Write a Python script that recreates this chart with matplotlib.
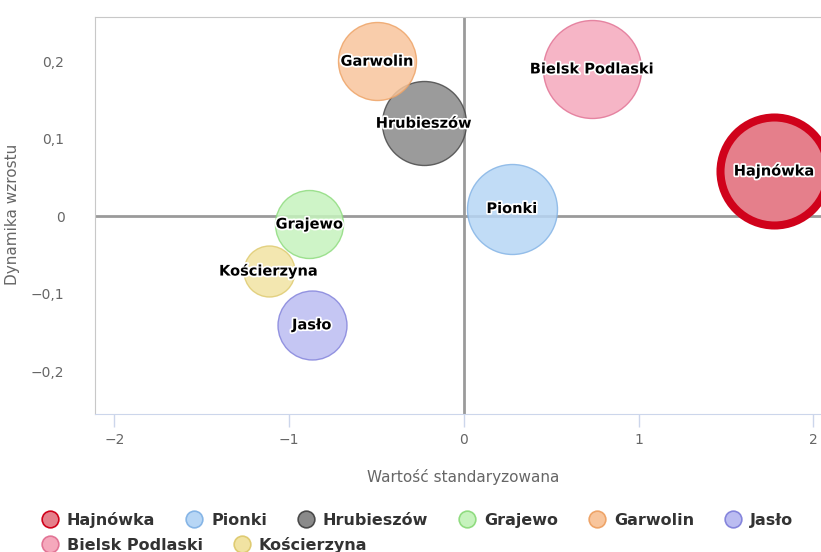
import numpy as np
import matplotlib
matplotlib.use("Agg")
import matplotlib.pyplot as plt
from matplotlib.ticker import FuncFormatter
from matplotlib.lines import Line2D
import matplotlib.patheffects as pe

plt.rcParams['font.family'] = ['DejaVu Sans']

# ========== dane ==========
miasta = ["Hajnówka", "Pionki", "Hrubieszów", "Grajewo", "Garwolin", "Jasło",
          "Bielsk Podlaski", "Kościerzyna"]
wartosc_std = [1.775, 0.275, -0.229, -0.883, -0.496, -0.870, 0.733, -1.117]
dynamika = [0.059, 0.010, 0.120, -0.010, 0.200, -0.140, 0.190, -0.070]
wielkosc = [2916, 2025, 1764, 1156, 1521, 1190, 2401, 650]   # wartość z (pole bąbla)

kolory = ["#e57f8b", "#b7d6f5", "#8a8a8a", "#c6f3bd", "#f8c59c", "#bbbcf1",
          "#f5a8bc", "#f1e3a2"]
obwodki = ["#d0021b", "#86b5e6", "#4a4a4a", "#90dc80", "#eea468", "#8585dc",
           "#e27596", "#dfcb72"]

# ========== wykres ==========
dpi = 100
fig = plt.figure(figsize=(8.21, 5.52), dpi=dpi)
ax = fig.add_axes([95 / 821, 1 - 414 / 552, 1 - 95 / 821 + 0.01, (414 - 17) / 552])
ax.set_xlim(-2.11, 2.09)
ax.set_ylim(-0.255, 0.257)

ax.axhline(0, color="#9a9a9a", lw=2, zorder=1)
ax.axvline(0, color="#9a9a9a", lw=2, zorder=1)

# promień bąbla w px ~ sqrt(z)
promienie = np.sqrt(np.array(wielkosc, dtype=float))
for i, m in enumerate(miasta):
    r = promienie[i]
    lw = 1.0
    alfa = 0.85
    if m == "Hajnówka":
        lw = 5.8
        alfa = 1.0
    s = (2 * r * 72 / dpi) ** 2
    ax.scatter(wartosc_std[i], dynamika[i], s=s, color=kolory[i],
               edgecolors=obwodki[i], linewidths=lw, alpha=alfa, zorder=3)
    ax.text(wartosc_std[i], dynamika[i], m, ha="center", va="center",
            fontsize=10.5, fontweight="bold", color="black", zorder=5,
            path_effects=[pe.withStroke(linewidth=2.5, foreground="white")])

for sp in ["top", "left"]:
    ax.spines[sp].set_color("#c8c8c8")
ax.spines["bottom"].set_color("#ccd6eb")
ax.spines["right"].set_visible(False)

ax.set_xticks([-2, -1, 0, 1, 2])
ax.set_yticks([-0.2, -0.1, 0, 0.1, 0.2])

def fmt(v, pos):
    if abs(v) < 1e-9:
        return "0"
    return f"{v:g}".replace(".", ",").replace("-", "\u2212")

ax.xaxis.set_major_formatter(FuncFormatter(fmt))
ax.yaxis.set_major_formatter(FuncFormatter(fmt))
ax.tick_params(axis="x", length=9, width=1, color="#ccd6eb", labelcolor="#666666",
               labelsize=10, pad=5)
ax.tick_params(axis="y", length=0, labelsize=10, labelcolor="#666666", pad=22)

ax.set_xlabel("Wartość standaryzowana", fontsize=11, color="#666666")
ax.set_ylabel("Dynamika wzrostu", fontsize=11, color="#666666")
szer = (821 - 95) + 8.2
ax.yaxis.set_label_coords((20 - 95) / szer, 0.5 + (216 - 215) / 397)
ax.xaxis.set_label_coords((463 - 95) / szer, (414 - 469) / 397)

# ========== legenda ==========
def uchwyt(i):
    return Line2D([], [], marker="o", linestyle="", markersize=12,
                  markerfacecolor=kolory[i], markeredgecolor=obwodki[i],
                  markeredgewidth=1.2)

wiersze = [[0, 1, 2, 3, 4, 5], [6, 7]]
for k, wiersz in enumerate(wiersze):
    leg = fig.legend([uchwyt(i) for i in wiersz], [miasta[i] for i in wiersz],
                     loc="center left", bbox_to_anchor=(42 / 821, 1 - (520 + 25 * k) / 552),
                     ncol=len(wiersz), frameon=False, handletextpad=0.55,
                     columnspacing=1.95, handlelength=1.0, borderaxespad=0,
                     borderpad=0, prop={"size": 11.5, "weight": "bold"})
    for t in leg.get_texts():
        t.set_color("#333333")

fig.savefig("out.png", dpi=dpi)
